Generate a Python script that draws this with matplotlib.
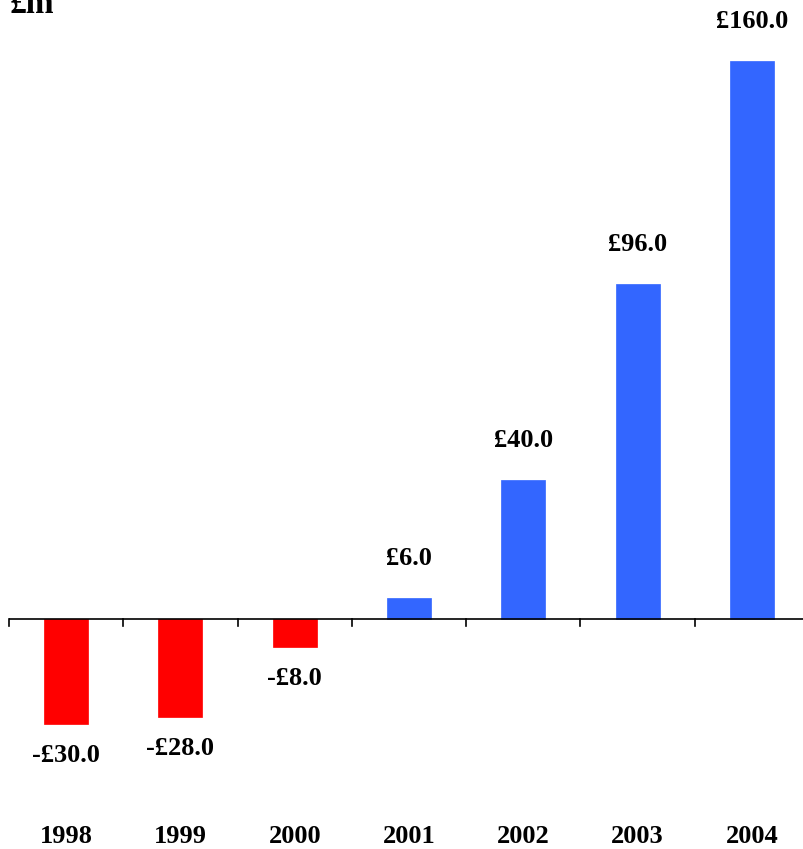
import matplotlib
matplotlib.use("Agg")
import matplotlib.pyplot as plt

years = ["1998", "1999", "2000", "2001", "2002", "2003", "2004"]
values = [-30.0, -28.0, -8.0, 6.0, 40.0, 96.0, 160.0]
colors = ["#FF0000" if v < 0 else "#3366FF" for v in values]

plt.rcParams['font.family'] = ['Liberation Serif', 'DejaVu Serif']
plt.rcParams['font.weight'] = 'bold'

fig = plt.figure(figsize=(8.04, 8.49), dpi=100)
ax = fig.add_axes([9 / 804, 0, 800 / 804, 1])

x = list(range(len(years)))
ax.bar(x, values, width=0.385, color=colors, edgecolor=colors, linewidth=0.5)

ax.set_xlim(-0.5, len(years) - 0.5)
ax.set_ylim(-65.9, 177.5)

for s in ax.spines.values():
    s.set_visible(False)
ax.axhline(0, color="black", linewidth=1.2)
ax.set_yticks([])
ax.set_xticks([])
# boundary tick marks below the zero line
for b in [i - 0.5 for i in range(len(years) + 1)]:
    ax.plot([b, b], [0, -2.0], color="black", linewidth=1.2, clip_on=False)

for xi, v in zip(x, values):
    label = f"£{v:.1f}" if v >= 0 else f"-£{abs(v):.1f}"
    off = 28.5 if v >= 0 else -23
    ax.annotate(label, (xi, v), xytext=(0, off), textcoords="offset points",
                ha="center", va="center", fontsize=19, fontweight="bold")

for xi, yr in zip(x, years):
    ax.text(xi, -62.2, yr, ha="center", va="center", fontsize=19, fontweight="bold")

fig.text(10 / 804, 1 - 13 / 849, "£m", ha="left", va="baseline", fontsize=24, fontweight="bold")

fig.savefig("out.png", dpi=100)
